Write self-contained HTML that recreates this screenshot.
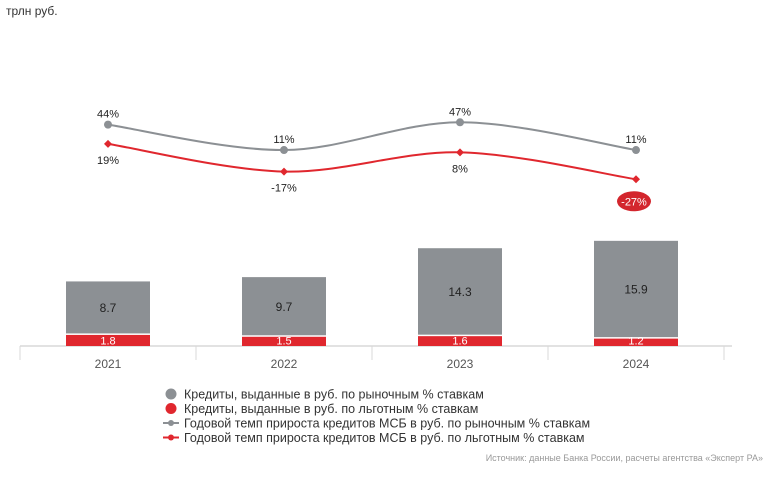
<!DOCTYPE html>
<html><head><meta charset="utf-8"><style>
body{margin:0;background:#fff;width:777px;height:475px;overflow:hidden;font-family:"Liberation Sans",sans-serif}
svg text{font-family:"Liberation Sans",sans-serif}
</style></head><body>
<svg id="c" width="777" height="475">
<text x="6" y="15" font-size="12" fill="#333">трлн руб.</text>
</svg>
<script>
const categories=["2021","2022","2023","2024"];
const marketVals=[8.7,9.7,14.3,15.9];
const preferVals=[1.8,1.5,1.6,1.2];
const marketGrowth=[44,11,47,11];
const preferGrowth=[19,-17,8,-27];
const NS="http://www.w3.org/2000/svg";
const svg=document.getElementById('c');
function mk(t,a,p){const e=document.createElementNS(NS,t);for(const k in a)e.setAttribute(k,a[k]);(p||svg).appendChild(e);return e;}
const x0=20,step=176,base=346,ppu=6.15,bw=84;
const xc=i=>x0+step*(i+0.5);
const yb=v=>base-v*ppu;
const yl=v=>158.5-0.77*v;
// axis
let ax=mk('line',{x1:20,x2:732,y1:base,y2:base,stroke:'#d8d8d8','stroke-width':1.5});


for(let i=0;i<=categories.length;i++){let t=mk('line',{x1:x0+step*i,x2:x0+step*i,y1:base,y2:base+14,stroke:'#d8d8d8'});

}
categories.forEach((c,i)=>{
 const cx=xc(i);
 let r=mk('rect',{x:cx-bw/2,y:yb(preferVals[i]),width:bw,height:preferVals[i]*ppu,fill:'#e0272e'});
 
 
 const tot=preferVals[i]+marketVals[i];
 let g=mk('rect',{x:cx-bw/2,y:yb(tot),width:bw,height:marketVals[i]*ppu-1.5,fill:'#8c9094'});
 
 
 let t1=mk('text',{x:cx,y:(yb(tot)+yb(preferVals[i]))/2+4,'text-anchor':'middle','font-size':12,fill:'#222'});t1.textContent=marketVals[i].toFixed(1);
 
 
 let t2=mk('text',{x:cx,y:base-1.5,'text-anchor':'middle','font-size':11,fill:'#fff'});t2.textContent=preferVals[i].toFixed(1);
 
 
 let t3=mk('text',{x:cx,y:base+22,'text-anchor':'middle','font-size':12,fill:'#555'});t3.textContent=c;
 
 
});
function curve(vals){const p=vals.map((v,i)=>[xc(i),yl(v)]);let d='M'+p[0][0]+','+p[0][1];
 for(let i=0;i<p.length-1;i++){const a=p[Math.max(0,i-1)],b=p[i],c=p[i+1],e=p[Math.min(p.length-1,i+2)];
 const c1=[b[0]+(c[0]-a[0])/6,b[1]+(c[1]-a[1])/6],c2=[c[0]-(e[0]-b[0])/6,c[1]-(e[1]-b[1])/6];
 d+=`C${c1[0]},${c1[1]} ${c2[0]},${c2[1]} ${c[0]},${c[1]}`;}return d;}
let lg=mk('path',{d:curve(marketGrowth),fill:'none',stroke:'#8c9094','stroke-width':2});


let lr=mk('path',{d:curve(preferGrowth),fill:'none',stroke:'#e0272e','stroke-width':2});


marketGrowth.forEach((v,i)=>{
 let c=mk('circle',{cx:xc(i),cy:yl(v),r:4,fill:'#8c9094'});
 
 
 let t=mk('text',{x:xc(i),y:yl(v)-7,'text-anchor':'middle','font-size':11,fill:'#222'});t.textContent=v+'%';
 
 
});
preferGrowth.forEach((v,i)=>{
 const x=xc(i),y=yl(v);
 let c=mk('path',{d:`M${x-4},${y}L${x},${y-4}L${x+4},${y}L${x},${y+4}Z`,fill:'#e0272e'});
 
 
 if(i===preferGrowth.length-1){let el=mk('ellipse',{cx:x-2,cy:y+22,rx:17,ry:10,fill:'#d3262d'});
 
 }
 let t=mk('text',{x:x-(i===3?2:0),y:y+20+(i===3?6:0),'text-anchor':'middle','font-size':11,fill:i===3?'#fff':'#222'});t.textContent=v+'%';
 
 
});
// legend
const leg=[['dot','#8c9094','Кредиты, выданные в руб. по рыночным % ставкам'],['dot','#e0272e','Кредиты, выданные в руб. по льготным % ставкам'],['line','#8c9094','Годовой темп прироста кредитов МСБ в руб. по рыночным % ставкам'],['line','#e0272e','Годовой темп прироста кредитов МСБ в руб. по льготным % ставкам']];
leg.forEach((l,i)=>{const y=394+i*14.5;
 const g=mk('g',{});
 if(l[0]==='dot')mk('circle',{cx:171,cy:y,r:5.5,fill:l[1]},g);
 else{mk('line',{x1:163,x2:179,y1:y,y2:y,stroke:l[1],'stroke-width':2},g);mk('circle',{cx:171,cy:y,r:3,fill:l[1]},g);}
 const t=mk('text',{x:184,y:y+4.5,'font-size':12.5,fill:'#333'},g);t.textContent=l[2];
});
let src=mk('text',{x:763,y:461,'text-anchor':'end','font-size':9,fill:'#999'});src.textContent='Источник: данные Банка России, расчеты агентства «Эксперт РА»';


</script>
</body></html>
